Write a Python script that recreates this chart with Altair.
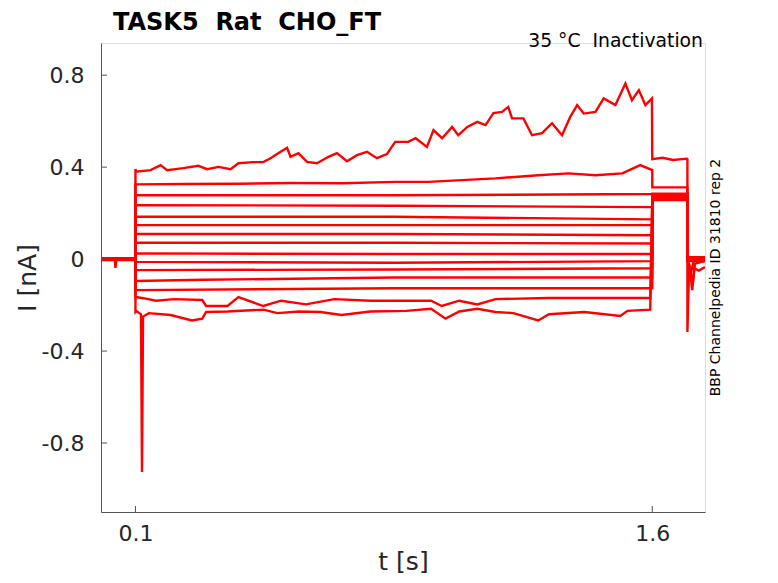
import altair as alt
import pandas as pd

# ---------------- data (t in s, I in nA) ----------------
PRE_T = [0.000, 0.040, 0.042, 0.045, 0.100]
PRE_I = [0.004, 0.002, 0.003, 0.001, 0.003, -0.002, 0.000, 0.002, -0.003, 0.001, -0.004, 0.000, -0.002, 0.002]
PRE_DIP = [0.000, 0.000, -0.038, 0.000, 0.000]

STEP = {
    1: [(0.100, 0.392), (0.102, 0.380), (0.144, 0.387), (0.173, 0.409), (0.192, 0.387), (0.239, 0.396),
        (0.283, 0.406), (0.308, 0.391), (0.341, 0.401), (0.376, 0.391), (0.399, 0.417), (0.442, 0.422),
        (0.471, 0.422), (0.492, 0.439), (0.511, 0.457), (0.540, 0.484), (0.550, 0.445), (0.573, 0.461),
        (0.598, 0.423), (0.627, 0.417), (0.660, 0.445), (0.685, 0.461), (0.714, 0.426), (0.743, 0.452),
        (0.772, 0.467), (0.801, 0.439), (0.830, 0.457), (0.854, 0.510), (0.892, 0.510), (0.913, 0.526),
        (0.946, 0.488), (0.965, 0.561), (0.990, 0.526), (1.019, 0.575), (1.037, 0.539), (1.063, 0.575),
        (1.092, 0.597), (1.116, 0.583), (1.139, 0.635), (1.164, 0.640), (1.182, 0.662), (1.193, 0.612),
        (1.226, 0.612), (1.251, 0.539), (1.280, 0.548), (1.309, 0.591), (1.338, 0.539), (1.362, 0.619),
        (1.382, 0.670), (1.401, 0.633), (1.435, 0.640), (1.459, 0.699), (1.493, 0.670), (1.522, 0.764),
        (1.541, 0.691), (1.561, 0.735), (1.580, 0.670), (1.599, 0.699)],
    2: [(0.100, 0.325), (0.250, 0.327), (0.400, 0.328), (0.550, 0.331), (0.700, 0.330), (0.854, 0.336),
        (0.950, 0.336), (1.145, 0.351), (1.269, 0.365), (1.357, 0.373), (1.435, 0.365), (1.513, 0.373),
        (1.565, 0.409), (1.600, 0.387)],
    3: [(0.100, 0.278), (0.850, 0.278), (1.600, 0.283)],
    4: [(0.100, 0.235), (0.850, 0.232), (1.600, 0.226)],
    5: [(0.100, 0.184), (0.850, 0.184), (1.600, 0.173)],
    6: [(0.100, 0.148), (0.850, 0.148), (1.600, 0.148)],
    7: [(0.100, 0.109), (0.850, 0.109), (1.600, 0.104)],
    8: [(0.100, 0.071), (0.850, 0.071), (1.600, 0.068)],
    9: [(0.100, 0.025), (0.850, 0.022), (1.600, 0.022)],
    10: [(0.100, -0.012), (0.850, -0.016), (1.600, -0.009)],
    11: [(0.100, -0.048), (0.850, -0.045), (1.600, -0.040)],
    12: [(0.100, -0.095), (0.300, -0.090), (0.850, -0.080), (1.600, -0.080)],
    13: [(0.100, -0.135), (0.850, -0.127), (1.600, -0.127)],
    14: [(0.100, -0.165), (0.123, -0.170), (0.160, -0.181), (0.212, -0.174), (0.294, -0.178), (0.305, -0.204),
         (0.367, -0.204), (0.399, -0.165), (0.471, -0.204), (0.523, -0.181), (0.595, -0.197), (0.677, -0.174),
         (0.782, -0.181), (0.958, -0.181), (0.989, -0.204), (1.040, -0.181), (1.092, -0.197), (1.145, -0.174),
         (1.300, -0.169), (1.507, -0.169), (1.594, -0.169)],
    15: [(0.100, -0.230), (0.103, -0.226), (0.116, -0.240), (0.119, -0.926), (0.122, -0.250), (0.139, -0.235),
         (0.202, -0.243), (0.264, -0.267), (0.294, -0.259), (0.305, -0.230), (0.367, -0.228), (0.471, -0.220),
         (0.512, -0.235), (0.575, -0.228), (0.637, -0.230), (0.698, -0.243), (0.782, -0.228), (0.886, -0.225),
         (0.958, -0.216), (1.000, -0.259), (1.040, -0.228), (1.092, -0.216), (1.145, -0.230), (1.197, -0.235),
         (1.269, -0.267), (1.300, -0.240), (1.403, -0.230), (1.507, -0.247), (1.528, -0.225), (1.594, -0.220)],
}

TEST_I = [0.435, 0.312, 0.284, 0.281, 0.279, 0.277, 0.275, 0.272, 0.270, 0.268, 0.267, 0.264, 0.262, 0.260, 0.257]
TEST1 = [(1.630, 0.441), (1.660, 0.431), (1.700, 0.437)]

TAIL = {
    13: [(1.702, 0.000), (1.718, -0.100), (1.724, -0.020), (1.753, -0.008)],
    14: [(1.702, 0.002), (1.712, -0.060), (1.720, -0.010), (1.753, 0.002)],
    15: [(1.702, -0.317), (1.707, -0.020), (1.716, -0.135), (1.722, -0.040), (1.735, -0.050), (1.753, -0.035)],
}
TAIL_I = [0.008, 0.006, 0.005, 0.004, 0.003, 0.002, 0.001, 0.000, -0.002, -0.004, -0.006, -0.008]

X_TICKS = [0.1, 1.6]
Y_TICKS = [-0.8, -0.4, 0.0, 0.4, 0.8]
X_DOMAIN = [0.0, 1.753]
Y_DOMAIN = [-1.1, 0.94]

# ---------------- build table ----------------
rows = []
for k in range(1, 16):
    pts = []
    if k == 15:
        pts += list(zip(PRE_T, PRE_DIP))
    else:
        pts += [(PRE_T[0], PRE_I[k - 1]), (PRE_T[-1], PRE_I[k - 1])]
    pts += STEP[k]
    test = TEST_I[k - 1]
    pts += [(1.600, test)]
    if k == 1:
        pts += TEST1
    pts += [(1.702, test)]
    if k in TAIL:
        pts += TAIL[k]
    else:
        pts += [(1.702, TAIL_I[k - 1]), (1.753, TAIL_I[k - 1])]
    for j, (t, i) in enumerate(pts):
        rows.append({"trace": k, "idx": j, "t": t, "I": i})
df = pd.DataFrame(rows)

W, H = 604, 469
FONT = "DejaVu Sans"
TXT = "#262626"
AX = "#555555"

xscale = alt.Scale(domain=X_DOMAIN, nice=False, zero=False)
yscale = alt.Scale(domain=Y_DOMAIN, nice=False, zero=False)

x_axis = alt.Axis(
    values=X_TICKS, labelExpr="'' + datum.value", title="t [s]", grid=False,
    ticks=False, tickSize=0, labelPadding=11, labelFontSize=22, labelColor=TXT, labelFont=FONT,
    titleFontSize=25, titleFontWeight="normal", titleColor=TXT, titleFont=FONT, titlePadding=5,
    domainColor=AX, domainWidth=1)
y_axis = alt.Axis(
    values=Y_TICKS, labelExpr="'' + datum.value", title="I [nA]", grid=False,
    ticks=False, tickSize=0, labelPadding=17, labelFontSize=22, labelColor=TXT, labelFont=FONT,
    titleFontSize=25, titleFontWeight="normal", titleColor=TXT, titleFont=FONT, titlePadding=1,
    domainColor=AX, domainWidth=1)

lines = alt.Chart(df).mark_line(color="#ff0000", strokeWidth=2.4, clip=True).encode(
    x=alt.X("t:Q", scale=xscale, axis=x_axis),
    y=alt.Y("I:Q", scale=yscale, axis=y_axis),
    detail="trace:N",
    order="idx:Q",
)

xt = pd.DataFrame({"t": X_TICKS})
yt = pd.DataFrame({"I": Y_TICKS})
xticks = alt.Chart(xt).mark_rule(color=AX, strokeWidth=1).encode(
    x=alt.X("t:Q", scale=xscale, axis=x_axis), y=alt.value(H), y2=alt.value(H - 6))
yticks = alt.Chart(yt).mark_rule(color=AX, strokeWidth=1).encode(
    y=alt.Y("I:Q", scale=yscale, axis=y_axis), x=alt.value(0), x2=alt.value(6))

title_txt = alt.Chart(pd.DataFrame({"s": ["TASK5\u00a0\u00a0Rat\u00a0\u00a0CHO_FT"]})).mark_text(
    align="left", baseline="alphabetic", font=FONT, fontSize=24, fontWeight="bold", color="#000000"
).encode(x=alt.value(12), y=alt.value(-13), text="s:N")

cond_txt = alt.Chart(pd.DataFrame({"s": ["35 °C\u00a0\u00a0Inactivation"]})).mark_text(
    align="right", baseline="middle", font=FONT, fontSize=18.8, color="#000000"
).encode(x=alt.value(602), y=alt.value(-2), text="s:N")

side_txt = alt.Chart(pd.DataFrame({"s": ["BBP Channelpedia ID 31810 rep 2"]})).mark_text(
    align="center", baseline="middle", font=FONT, fontSize=14, angle=270, color="#000000"
).encode(x=alt.value(615), y=alt.value(H / 2), text="s:N")

chart = alt.layer(lines, xticks, yticks, title_txt, cond_txt, side_txt).properties(
    width=W, height=H,
    autosize=alt.AutoSizeParams(type="none"),
    padding={"left": 93, "top": 35, "right": 60, "bottom": 63},
).configure_view(stroke="transparent", strokeWidth=0).configure(background="white")

chart.save("out.html", embed_options={"renderer": "svg", "actions": False})
